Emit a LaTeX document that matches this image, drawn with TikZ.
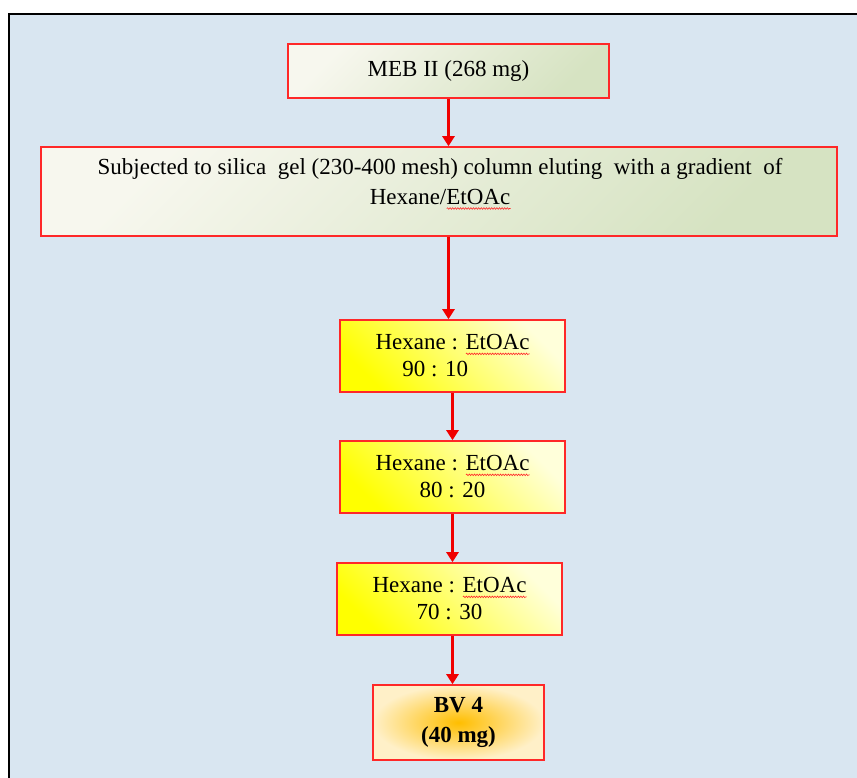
\documentclass[tikz,border=0pt]{standalone}
\usepackage{fontspec}
\setmainfont{Liberation Serif}
\usetikzlibrary{arrows.meta,decorations.pathmorphing}
\definecolor{panelblue}{RGB}{217,230,241}
\definecolor{boxred}{RGB}{255,40,40}
\definecolor{arrowred}{RGB}{240,0,0}
\definecolor{greenlight}{RGB}{247,247,238}
\definecolor{greendark}{RGB}{214,227,194}
\definecolor{yellowlight}{RGB}{255,255,218}
\definecolor{yellowdeep}{RGB}{255,255,0}
\definecolor{orangecore}{RGB}{255,190,0}
\definecolor{orangeedge}{RGB}{255,240,200}
\newlength\squigwd
\newcommand{\squig}[1]{\settowidth{\squigwd}{#1}\rlap{\raisebox{-5pt}{\tikz\draw [boxred, line width=0.6pt, decorate, decoration={snake, amplitude=0.8pt, segment length=2.6pt}] (0pt,0pt) -- (\squigwd,0pt);}}#1}

\begin{document}
\begin{tikzpicture}[x=1pt,y=-1pt]
\tikzstyle{every node}+=[font=\fontsize{23}{27}\selectfont, inner sep=0pt]
\tikzstyle{greenbox}=[draw=boxred, line width=1.6pt, top color=greenlight, bottom color=greendark, shading angle=45]
\tikzstyle{yellowbox}=[draw=boxred, line width=1.6pt, top color=yellowlight, bottom color=yellowdeep, shading angle=-45, align=center, minimum width=225pt, minimum height=72pt]
\tikzstyle{flow}=[draw=arrowred, line width=3pt, -{Triangle[length=10pt,width=12pt]}]
\clip (0,0) rectangle (857,778);
\fill [white] (0,0) rectangle (857,778);
\draw [line width=2.5pt, fill=panelblue] (9,14) rectangle (880,800);
% boxes
\node [greenbox, minimum width=321pt, minimum height=54pt] (meb) at (448.5,71) {MEB II (268 mg)};
\node [greenbox, minimum width=796pt, minimum height=89pt] (column) at (439,191.5) {};
\node [align=center, font=\fontsize{23}{30}\selectfont] (columntext) at (440,184) {Subjected to silica\ \ gel (230-400 mesh) column eluting\ \ with a gradient\ \ of\\Hexane/\squig{EtOAc}};
\node [yellowbox] (frac1) at (452.5,356) {Hexane : \squig{EtOAc}\\90 : 10\hspace*{1.5em}};
\node [yellowbox] (frac2) at (452.5,477) {Hexane : \squig{EtOAc}\\80 : 20};
\node [yellowbox] (frac3) at (449.5,599) {Hexane : \squig{EtOAc}\\70 : 30};
\node [draw=boxred, line width=1.6pt, shading=radial, inner color=orangecore, outer color=orangeedge, minimum width=171pt, minimum height=75pt, align=center, font=\fontsize{23}{30}\selectfont\bfseries] (bv) at (458.5,722.5) {BV 4\\(40 mg)};
% arrows
\draw [flow] (meb.south) -- (meb.south |- column.north);
\draw [flow] (meb.south |- column.south) -- (meb.south |- frac1.north);
\draw [flow] (frac1.south) -- (frac2.north);
\draw [flow] (frac2.south) -- (frac2.south |- frac3.north);
\draw [flow] (frac2.south |- frac3.south) -- (frac2.south |- bv.north);
\end{tikzpicture}
\end{document}
